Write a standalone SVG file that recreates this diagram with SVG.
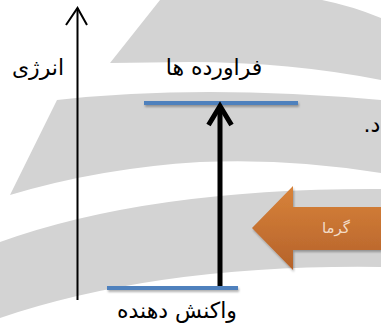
<svg xmlns="http://www.w3.org/2000/svg" width="381" height="329" viewBox="0 0 381 329">
<style>
.band{fill:#d3d3d3;stroke:none}
.lbl{font-family:"DejaVu Sans","Liberation Sans",sans-serif;font-size:22px;fill:#000}
.level{fill:#4f81bd}
</style>
<defs>
<linearGradient id="og" x1="0" y1="0" x2="0" y2="1">
<stop offset="0" stop-color="#d8833a"/>
<stop offset="1" stop-color="#b5622a"/>
</linearGradient>
<filter id="sh" filterUnits="userSpaceOnUse" x="0" y="0" width="381" height="329">
<feDropShadow dx="1" dy="2" stdDeviation="1.2" flood-color="#000" flood-opacity="0.3"/>
</filter>
</defs>
<rect width="381" height="329" fill="#fff"/>
<g id="background">
<path class="band" d="M110,63 L160,0 L322,0 Q352,6 381,18 L381,80 Q290,62 190,62 Z"/>
<path class="band" d="M57,100 Q200,84 381,100 L381,173 Q290,158 200,162 Q100,168 10,195 Z"/>
<path class="band" d="M0,242 Q150,188 381,189 L381,267 Q160,264 0,318 Z"/>
</g>
<g id="energy-axis">
<line x1="77.5" y1="300" x2="77.5" y2="8" stroke="#000" stroke-width="2"/>
<polyline points="66,25 77.5,8 87,25" fill="none" stroke="#000" stroke-width="2"/>
<text class="lbl" x="38" y="75" text-anchor="middle">انرژی</text>
</g>
<g id="products">
<rect class="level" x="144" y="101" width="154" height="4" filter="url(#sh)"/>
<text class="lbl" x="214" y="75" text-anchor="middle">فراورده ها</text>
</g>
<g id="reactants">
<rect class="level" x="107" y="286" width="131" height="4" filter="url(#sh)"/>
<text class="lbl" x="177" y="318" text-anchor="middle">واکنش دهنده</text>
</g>
<g id="connectors">
<line x1="220" y1="286" x2="220" y2="108" stroke="#000" stroke-width="5"/>
<polyline points="208.5,125 220,106 231.5,125" fill="none" stroke="#000" stroke-width="5"/>
</g>
<g id="heat">
<path d="M252,228 L293,186 L293,207 L381,207 L381,250 L293,250 L293,270 Z" fill="url(#og)" filter="url(#sh)"/>
<text x="336" y="233" text-anchor="middle" font-family="DejaVu Sans, sans-serif" font-size="15" fill="#f3dcc8">گرما</text>
</g>
<text class="lbl" x="372" y="132" text-anchor="middle" direction="rtl">د.</text>
</svg>
